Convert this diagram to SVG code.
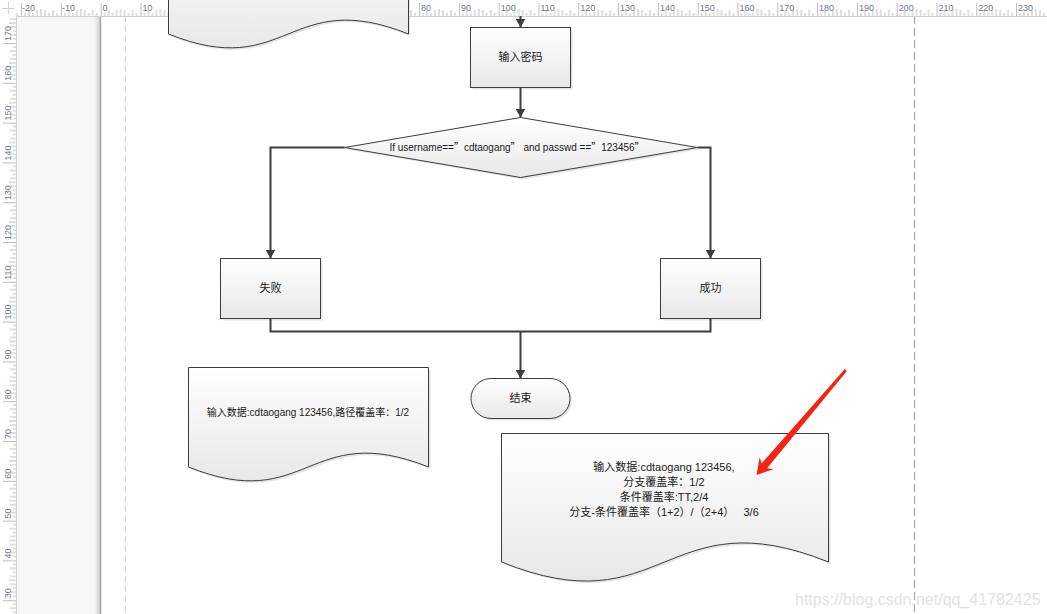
<svg xmlns="http://www.w3.org/2000/svg" width="1047" height="614" viewBox="0 0 1047 614">
<style>
.shape{stroke:#3c3c3c;stroke-width:1;fill:url(#fillg)}
.shadow{fill:#000;fill-opacity:.1;stroke:none}
.lbl{font-family:"Liberation Sans","Noto Sans CJK SC",sans-serif;font-size:11px;fill:#1a1a1a;text-anchor:middle}
.small{font-size:10px}
.cjk{font-family:"Noto Sans CJK SC",sans-serif}
.conn{fill:none;stroke:#3d3d3d;stroke-width:2}
.rl{font-family:"Liberation Sans",sans-serif;font-size:9px;fill:#6e7a8c}
.tick{stroke:#bdbdbd;stroke-width:1;fill:none}
</style>
<defs>
<linearGradient id="fillg" x1="0" y1="0" x2="0" y2="1">
<stop offset="0" stop-color="#ffffff"/>
<stop offset="1" stop-color="#e8e8e8"/>
</linearGradient>
<linearGradient id="edgeShade" x1="0" y1="0" x2="1" y2="0">
<stop offset="0" stop-color="#f6f6f6"/>
<stop offset="1" stop-color="#d4d4d4"/>
</linearGradient>
<marker id="arr" markerUnits="userSpaceOnUse" markerWidth="10" markerHeight="10" refX="9" refY="5" orient="auto">
<path d="M0,0 L9,5 L0,10 z" fill="#3d3d3d"/>
</marker>
<pattern id="hticks" patternUnits="userSpaceOnUse" x="100.7" y="0" width="39.8" height="16">
<path class="tick" d="M0.5,3V16M3.98,13V16M7.96,10V16M11.94,13V16M15.92,10V16M19.9,9V16M23.88,10V16M27.86,13V16M31.84,10V16M35.82,13V16"/>
</pattern>
<pattern id="vticks" patternUnits="userSpaceOnUse" x="0" y="43" width="16" height="39.8">
<path class="tick" d="M3,0.5H16M13,3.98H16M10,7.96H16M13,11.94H16M10,15.92H16M9,19.9H16M10,23.88H16M13,27.86H16M10,31.84H16M13,35.82H16"/>
</pattern>
</defs>

<!-- background -->
<rect x="0" y="0" width="1047" height="614" fill="#ffffff"/>
<rect x="16" y="16" width="84" height="598" fill="#f7f7f7"/>
<rect x="94" y="16" width="6" height="598" fill="url(#edgeShade)"/>
<line x1="100.5" y1="16" x2="100.5" y2="614" stroke="#a8a8a8" stroke-width="1.5"/>
<line x1="125.5" y1="16" x2="125.5" y2="614" stroke="#d6d6d6" stroke-width="1" stroke-dasharray="6 4"/>
<line x1="914.5" y1="16" x2="914.5" y2="614" stroke="#a6a6a6" stroke-width="1.2" stroke-dasharray="8 4"/>

<!-- rulers -->
<g id="rulers">
<rect x="16" y="0" width="1031" height="16" fill="#ffffff"/>
<rect x="16" y="0" width="1031" height="16" fill="url(#hticks)"/>
<line x1="16" y1="16.5" x2="1047" y2="16.5" stroke="#d0d0d0"/>
<rect x="0" y="16" width="16" height="598" fill="#ffffff"/>
<rect x="0" y="16" width="16" height="598" fill="url(#vticks)"/>
<line x1="16.5" y1="16" x2="16.5" y2="614" stroke="#d0d0d0"/>
<rect x="0" y="0" width="16" height="16" fill="#ffffff"/>
<path d="M2,8.5H14M8.5,2V14" stroke="#c4d2f0" stroke-width="1"/>
<g class="rl">
<text x="22" y="11">-20</text><text x="62" y="11">-10</text><text x="102.5" y="11">0</text>
<text x="142.5" y="11">10</text><text x="182.3" y="11">20</text><text x="222" y="11">30</text>
<text x="262" y="11">40</text><text x="301.7" y="11">50</text><text x="341.5" y="11">60</text>
<text x="381.3" y="11">70</text><text x="421" y="11">80</text><text x="461" y="11">90</text>
<text x="500.7" y="11">100</text><text x="540.5" y="11">110</text><text x="580.3" y="11">120</text>
<text x="620" y="11">130</text><text x="660" y="11">140</text><text x="699.7" y="11">150</text>
<text x="739.5" y="11">160</text><text x="779.3" y="11">170</text><text x="819" y="11">180</text>
<text x="859" y="11">190</text><text x="898.7" y="11">200</text><text x="938.5" y="11">210</text>
<text x="978.3" y="11">220</text><text x="1018" y="11">230</text>
</g>
<g class="rl">
<text transform="translate(10.5,41) rotate(-90)">170</text>
<text transform="translate(10.5,80.8) rotate(-90)">160</text>
<text transform="translate(10.5,120.6) rotate(-90)">150</text>
<text transform="translate(10.5,160.4) rotate(-90)">140</text>
<text transform="translate(10.5,200.2) rotate(-90)">130</text>
<text transform="translate(10.5,240) rotate(-90)">120</text>
<text transform="translate(10.5,279.8) rotate(-90)">110</text>
<text transform="translate(10.5,319.6) rotate(-90)">100</text>
<text transform="translate(10.5,359.4) rotate(-90)">90</text>
<text transform="translate(10.5,399.2) rotate(-90)">80</text>
<text transform="translate(10.5,439) rotate(-90)">70</text>
<text transform="translate(10.5,478.8) rotate(-90)">60</text>
<text transform="translate(10.5,518.6) rotate(-90)">50</text>
<text transform="translate(10.5,558.4) rotate(-90)">40</text>
<text transform="translate(10.5,598.2) rotate(-90)">30</text>
</g>
</g>

<!-- nodes -->
<g id="n-topdoc">
<path class="shadow" transform="translate(2,2)" d="M168,-66H408V34C288,-14 288,82 168,34Z"/>
<path class="shape" d="M168.5,-66H408.5V34C288,-14 288,82 168.5,34Z"/>
</g>

<g id="n-password">
<rect class="shadow" x="472.5" y="29.5" width="100" height="60"/>
<rect class="shape" x="470.5" y="27.5" width="100" height="60"/>
<text class="lbl" x="520.5" y="61">输入密码</text>
</g>

<g id="n-decision">
<path class="shadow" transform="translate(2,2)" d="M344.5,147.5L520.5,117.5L697.5,147.5L520.5,177.5Z"/>
<path class="shape" d="M344.5,147.5L520.5,117.5L697.5,147.5L520.5,177.5Z"/>
<text class="lbl small" x="517" y="150.5">If username==<tspan class="cjk">”</tspan>cdtaogang<tspan class="cjk">”</tspan> and passwd ==<tspan class="cjk">”</tspan>123456<tspan class="cjk">”</tspan></text>
</g>

<g id="n-fail">
<rect class="shadow" x="222.5" y="260.5" width="100" height="60"/>
<rect class="shape" x="220.5" y="258.5" width="100" height="60"/>
<text class="lbl" x="270.5" y="292">失败</text>
</g>

<g id="n-success">
<rect class="shadow" x="662.5" y="260.5" width="100" height="60"/>
<rect class="shape" x="660.5" y="258.5" width="100" height="60"/>
<text class="lbl" x="710.5" y="292">成功</text>
</g>

<g id="n-end">
<rect class="shadow" x="473" y="380.5" width="99" height="40" rx="20"/>
<rect class="shape" x="471" y="378.5" width="99" height="40" rx="20"/>
<text class="lbl" x="520.5" y="402">结束</text>
</g>

<g id="n-doc1">
<path class="shadow" transform="translate(2,2)" d="M188.5,367.5H428.5V467C308,419 308,515 188.5,467Z"/>
<path class="shape" d="M188.5,367.5H428.5V467C308,419 308,515 188.5,467Z"/>
<text class="lbl small" x="308" y="416">输入数据:cdtaogang 123456,路径覆盖率：1/2</text>
</g>

<g id="n-doc2">
<path class="shadow" transform="translate(2,2)" d="M501.5,433.5H828.5V562C664.5,496 664.5,628 501.5,562Z"/>
<path class="shape" d="M501.5,433.5H828.5V562C664.5,496 664.5,628 501.5,562Z"/>
<text class="lbl" x="664" y="471">输入数据:cdtaogang 123456,</text>
<text class="lbl" x="664" y="486">分支覆盖率：1/2</text>
<text class="lbl" x="664" y="501">条件覆盖率:TT,2/4</text>
<text class="lbl" x="664" y="516" xml:space="preserve">分支-条件覆盖率（1+2）/（2+4）   3/6</text>
</g>

<!-- connectors -->
<g id="connectors">
<path class="conn" d="M520.5,16V27.5" marker-end="url(#arr)"/>
<path class="conn" d="M520.5,87.5V117.5" marker-end="url(#arr)"/>
<path class="conn" d="M344.5,147.5H270.5V258.5" marker-end="url(#arr)"/>
<path class="conn" d="M697.5,147.5H710.5V258.5" marker-end="url(#arr)"/>
<path class="conn" d="M270.5,318.5V331.5H710.5V318.5"/>
<path class="conn" d="M520.5,331.5V378.5" marker-end="url(#arr)"/>
</g>

<!-- red annotation arrow -->
<g id="annotation">
<polygon points="756.5,475 773.5,469.2 767.1,468.2 846.9,370.9 844.8,369.1 761.5,463.5 759.7,457" fill="#f42414"/>
</g>

<text x="795" y="605" font-family="Liberation Sans,sans-serif" font-size="16" fill="#e2e2e2">https://blog.csdn.net/qq_41782425</text>
</svg>
